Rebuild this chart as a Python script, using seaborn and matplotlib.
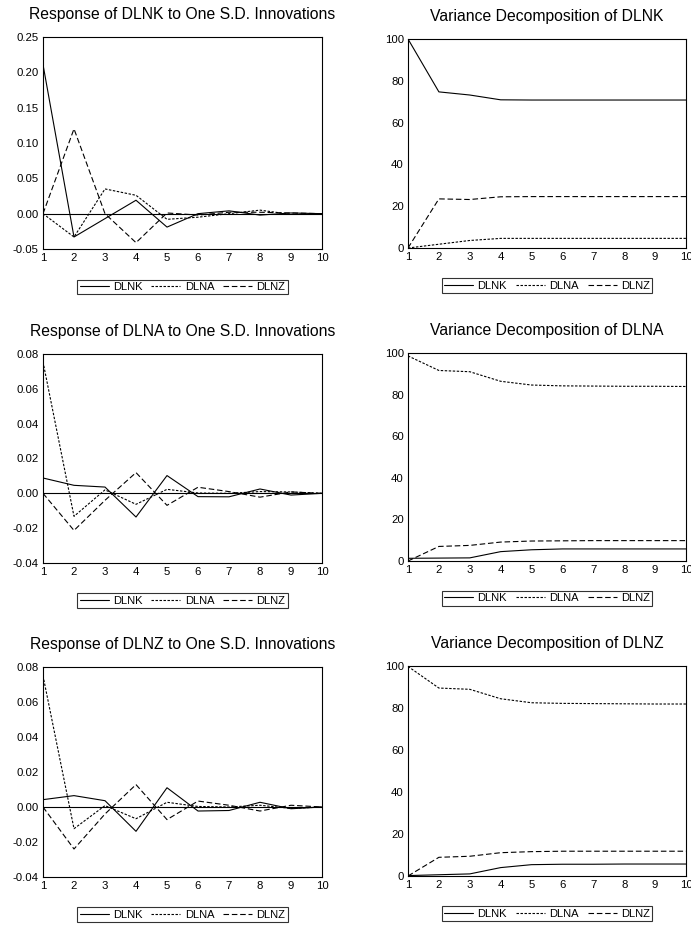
import matplotlib
matplotlib.use("Agg")
import matplotlib.pyplot as plt
import seaborn as sns
import numpy as np

sns.set_theme(style="white")
plt.rcParams['font.family'] = ['Liberation Sans', 'DejaVu Sans']
plt.rcParams['text.color'] = 'black'
plt.rcParams['axes.labelcolor'] = 'black'
plt.rcParams['xtick.color'] = 'black'
plt.rcParams['ytick.color'] = 'black'

periods = list(range(1, 11))
series_names = ["DLNK", "DLNA", "DLNZ"]

# Impulse responses (Response of X to one S.D. innovations in DLNK, DLNA, DLNZ)
irf_k_k = [0.211, -0.033, -0.007, 0.019, -0.019, 0.000, 0.004, -0.002, 0.001, 0.000]
irf_k_a = [0.000, -0.033, 0.035, 0.026, -0.008, -0.005, 0.000, 0.005, -0.001, 0.000]
irf_k_z = [0.000, 0.120, 0.000, -0.041, 0.001, -0.002, 0.002, 0.002, 0.001, 0.000]

irf_a_k = [0.0088, 0.0046, 0.0036, -0.0136, 0.0102, -0.0019, -0.0020, 0.0025, -0.0010, 0.0000]
irf_a_a = [0.0755, -0.0132, 0.0020, -0.0063, 0.0023, 0.0002, 0.0000, 0.0010, 0.0008, 0.0000]
irf_a_z = [0.0000, -0.0213, -0.0040, 0.0119, -0.0069, 0.0035, 0.0010, -0.0022, 0.0008, 0.0000]

irf_z_k = [0.0042, 0.0065, 0.0036, -0.0139, 0.0110, -0.0023, -0.0020, 0.0027, -0.0010, 0.0000]
irf_z_a = [0.0750, -0.0124, 0.0008, -0.0067, 0.0027, 0.0003, 0.0000, 0.0010, -0.0008, 0.0000]
irf_z_z = [0.0000, -0.0240, -0.0040, 0.0128, -0.0072, 0.0034, 0.0010, -0.0023, 0.0010, 0.0000]

# Variance decompositions (percent)
vd_k_k = [100.0, 74.7, 73.2, 70.9, 70.8, 70.8, 70.8, 70.8, 70.8, 70.8]
vd_k_a = [0.0, 1.8, 3.6, 4.6, 4.6, 4.6, 4.6, 4.6, 4.6, 4.6]
vd_k_z = [0.0, 23.5, 23.2, 24.5, 24.6, 24.6, 24.6, 24.6, 24.6, 24.6]

vd_a_k = [1.3, 1.4, 1.5, 4.5, 5.4, 5.8, 5.8, 5.8, 5.8, 5.8]
vd_a_a = [98.6, 91.6, 91.0, 86.4, 84.6, 84.2, 84.1, 84.0, 84.0, 83.9]
vd_a_z = [0.0, 7.0, 7.5, 9.1, 9.6, 9.7, 9.8, 9.8, 9.8, 9.8]

vd_z_k = [0.2, 0.6, 1.0, 4.0, 5.4, 5.6, 5.6, 5.7, 5.7, 5.7]
vd_z_a = [99.8, 89.5, 88.9, 84.4, 82.5, 82.2, 82.1, 82.0, 81.9, 81.9]
vd_z_z = [0.0, 8.9, 9.4, 11.1, 11.6, 11.8, 11.8, 11.8, 11.8, 11.8]

irf_titles = ["Response of DLNK to One S.D. Innovations",
              "Response of DLNA to One S.D. Innovations",
              "Response of DLNZ to One S.D. Innovations"]
vd_titles = ["Variance Decomposition of DLNK",
             "Variance Decomposition of DLNA",
             "Variance Decomposition of DLNZ"]

irf_data = [(irf_k_k, irf_k_a, irf_k_z), (irf_a_k, irf_a_a, irf_a_z), (irf_z_k, irf_z_a, irf_z_z)]
vd_data = [(vd_k_k, vd_k_a, vd_k_z), (vd_a_k, vd_a_a, vd_a_z), (vd_z_k, vd_z_a, vd_z_z)]

irf_ylims = [(-0.05, 0.25), (-0.04, 0.08), (-0.04, 0.08)]
irf_yticks = [[-0.05, 0.0, 0.05, 0.10, 0.15, 0.20, 0.25],
              [-0.04, -0.02, 0.0, 0.02, 0.04, 0.06, 0.08],
              [-0.04, -0.02, 0.0, 0.02, 0.04, 0.06, 0.08]]
vd_yticks = [0, 20, 40, 60, 80, 100]

styles = ["-", (0, (2.2, 1.4)), (0, (5, 2.5))]

W, H = 691, 927
fig = plt.figure(figsize=(W / 100, H / 100), dpi=100)

# axes boxes in pixels: left, top, right, bottom
left_boxes = [(43, 37, 322, 249), (43, 354, 322, 563), (43, 667, 322, 877)]
right_boxes = [(408, 39, 686, 248), (408, 353, 686, 561), (408, 666, 686, 876)]


def make_ax(box):
    l, t, r, b = box
    return fig.add_axes([l / W, 1 - b / H, (r - l) / W, (b - t) / H])


def style_ax(ax, title):
    for sp in ax.spines.values():
        sp.set_color("black")
        sp.set_linewidth(0.8)
    ax.set_xlim(1, 10)
    ax.set_xticks(periods)
    ax.tick_params(axis="both", direction="out", length=2, width=0.6,
                   labelsize=8.2, pad=1, colors="black")
    ax.set_title(title, fontsize=11.3, pad=13, color="black")
    ax.set_xlabel("")
    ax.set_ylabel("")
    ax.grid(False)


def add_legend(ax):
    handles = ax.get_lines()[:3]
    leg = ax.legend(handles, series_names, loc="upper center",
                    bbox_to_anchor=(0.5, -0.145), ncol=3, frameon=True,
                    fancybox=False, fontsize=8, handlelength=2.6,
                    columnspacing=0.8, handletextpad=0.4, borderpad=0.2,
                    borderaxespad=0)
    leg.get_frame().set_edgecolor("black")
    leg.get_frame().set_linewidth(0.8)
    for t in leg.get_texts():
        t.set_color("black")


for i in range(3):
    ax = make_ax(left_boxes[i])
    for vals, name, ls in zip(irf_data[i], series_names, styles):
        sns.lineplot(x=periods, y=vals, ax=ax, color="black", linewidth=0.8,
                     linestyle=ls, label=name, legend=False)
    ax.axhline(0, color="black", linewidth=0.8)
    ax.set_ylim(*irf_ylims[i])
    ax.set_yticks(irf_yticks[i])
    ax.set_yticklabels([f"{v:.2f}" for v in irf_yticks[i]])
    style_ax(ax, irf_titles[i])
    add_legend(ax)

    ax2 = make_ax(right_boxes[i])
    for vals, name, ls in zip(vd_data[i], series_names, styles):
        sns.lineplot(x=periods, y=vals, ax=ax2, color="black", linewidth=0.8,
                     linestyle=ls, label=name, legend=False)
    ax2.set_ylim(0, 100)
    ax2.set_yticks(vd_yticks)
    style_ax(ax2, vd_titles[i])
    add_legend(ax2)

fig.savefig("out.png", dpi=100, facecolor="white")
